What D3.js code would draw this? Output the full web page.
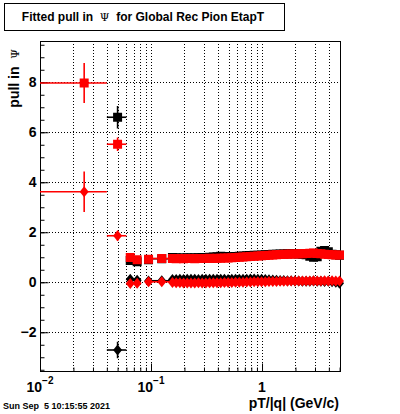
<!DOCTYPE html>
<html>
<head>
<meta charset="utf-8">
<script src="https://cdn.jsdelivr.net/npm/d3@7"></script>
<style>
  body { margin: 0; background: #fff; }
  text { font-family: "Liberation Sans", Arial, sans-serif; font-weight: bold; }
</style>
</head>
<body>
<svg width="400" height="414"></svg>
<script>
// bin edges in pT/|q| (GeV/c)
var binEdges = [0.01, 0.04, 0.06, 0.07, 0.08, 0.09, 0.10, 0.15,
  0.162, 0.175, 0.189, 0.204, 0.220, 0.238, 0.257, 0.278, 0.300, 0.324,
  0.350, 0.378, 0.408, 0.441, 0.476, 0.514, 0.555, 0.600, 0.648, 0.700,
  0.756, 0.816, 0.882, 0.952, 1.03, 1.11, 1.20, 1.30, 1.40, 1.51, 1.63,
  1.76, 1.90, 2.06, 2.22, 2.40, 2.59, 2.80, 3.02, 3.26, 3.52, 3.80, 4.11,
  4.44, 4.80, 5.18];

// pull values, one entry per bin (null = empty bin)
var blackSquare = [null, 6.58, 0.85, 0.80, null, 0.88, 0.92,
  0.97, 0.96, 0.95, 0.95, 0.96, 0.95, 0.96, 0.96, 0.97,
  0.97, 0.98, 0.99, 1.00, 1.02, 1.01, 1.00, 1.00, 1.01,
  1.02, 1.03, 1.04, 1.05, 1.06, 1.06, 1.07,
  1.08, 1.09, 1.10, 1.10, 1.11, 1.11, 1.12, 1.12,
  1.12, 1.11, 1.10, 1.08, 1.02, 0.98, 1.00,
  1.22, 1.25, 1.20, 1.10, 1.08, 1.06];
var blackSquareErr = [0, 0.45, 0.08, 0.08, 0, 0.07, 0.06,
  0.05, 0.05, 0.05, 0.05, 0.05, 0.05, 0.05, 0.05, 0.05,
  0.05, 0.05, 0.05, 0.05, 0.05, 0.05, 0.05, 0.05, 0.05,
  0.05, 0.05, 0.05, 0.05, 0.05, 0.05, 0.05,
  0.05, 0.05, 0.05, 0.05, 0.05, 0.05, 0.05, 0.05,
  0.05, 0.05, 0.05, 0.05, 0.05, 0.05, 0.05,
  0.06, 0.06, 0.06, 0.06, 0.06, 0.06];

var redSquare = [7.95, 5.50, 0.97, 0.88, null, 0.90, 0.93,
  0.93, 0.92, 0.93, 0.92, 0.93, 0.93, 0.92, 0.93, 0.93,
  0.93, 0.94, 0.93, 0.94, 0.94, 0.95, 0.95, 0.96, 0.97,
  0.98, 0.99, 1.00, 1.01, 1.02, 1.03, 1.04,
  1.05, 1.06, 1.07, 1.08, 1.09, 1.10, 1.10, 1.11,
  1.11, 1.12, 1.12, 1.13, 1.14, 1.15, 1.13,
  1.12, 1.10, 1.09, 1.08, 1.07, 1.07];
var redSquareErr = [0.80, 0.27, 0.08, 0.08, 0, 0.07, 0.06,
  0.05, 0.05, 0.05, 0.05, 0.05, 0.05, 0.05, 0.05, 0.05,
  0.05, 0.05, 0.05, 0.05, 0.05, 0.05, 0.05, 0.05, 0.05,
  0.05, 0.05, 0.05, 0.05, 0.05, 0.05, 0.05,
  0.05, 0.05, 0.05, 0.05, 0.05, 0.05, 0.05, 0.05,
  0.05, 0.05, 0.05, 0.05, 0.05, 0.05, 0.05,
  0.06, 0.06, 0.06, 0.06, 0.06, 0.06];

var blackDiamond = [null, -2.73, 0.10, 0.06, null, 0.03, 0.04,
  0.09, 0.09, 0.10, 0.09, 0.10, 0.10, 0.10, 0.09, 0.10,
  0.10, 0.10, 0.10, 0.10, 0.10, 0.10, 0.09, 0.10, 0.10,
  0.10, 0.10, 0.10, 0.11, 0.11, 0.10, 0.10,
  0.09, 0.08, 0.07, 0.06, 0.05, 0.05, 0.04, 0.04,
  0.03, 0.03, 0.02, 0.02, 0.02, 0.03, 0.02,
  0.02, 0.01, 0.02, 0.00, -0.02, -0.06];
var blackDiamondErr = [0, 0.33, 0.06, 0.06, 0, 0.05, 0.05,
  0.04, 0.04, 0.04, 0.04, 0.04, 0.04, 0.04, 0.04, 0.04,
  0.04, 0.04, 0.04, 0.04, 0.04, 0.04, 0.04, 0.04, 0.04,
  0.04, 0.04, 0.04, 0.04, 0.04, 0.04, 0.04,
  0.04, 0.04, 0.04, 0.04, 0.04, 0.04, 0.04, 0.04,
  0.04, 0.04, 0.04, 0.04, 0.04, 0.04, 0.04,
  0.05, 0.05, 0.05, 0.05, 0.05, 0.05];

var redDiamond = [3.60, 1.84, -0.07, -0.06, null, 0.00, 0.00,
  -0.03, -0.04, -0.04, -0.05, -0.05, -0.05, -0.05, -0.04, -0.05,
  -0.05, -0.04, -0.04, -0.04, -0.04, -0.03, -0.03, -0.03, -0.02,
  -0.02, -0.02, -0.01, -0.01, 0.00, 0.00, 0.00,
  0.00, 0.01, 0.01, 0.01, 0.02, 0.02, 0.02, 0.03,
  0.03, 0.03, 0.03, 0.03, 0.03, 0.04, 0.03,
  0.03, 0.04, 0.03, 0.04, 0.03, 0.03];
var redDiamondErr = [0.81, 0.20, 0.06, 0.06, 0, 0.05, 0.05,
  0.04, 0.04, 0.04, 0.04, 0.04, 0.04, 0.04, 0.04, 0.04,
  0.04, 0.04, 0.04, 0.04, 0.04, 0.04, 0.04, 0.04, 0.04,
  0.04, 0.04, 0.04, 0.04, 0.04, 0.04, 0.04,
  0.04, 0.04, 0.04, 0.04, 0.04, 0.04, 0.04, 0.04,
  0.04, 0.04, 0.04, 0.04, 0.04, 0.04, 0.04,
  0.05, 0.05, 0.05, 0.05, 0.05, 0.05];

var yMajorTicks = [-2, 0, 2, 4, 6, 8];
var xMajorTicks = [0.01, 0.1, 1];
var xMajorLabels = [["10", "\u22122"], ["10", "\u22121"], ["1", ""]];
var xMinorTicks = [0.02, 0.03, 0.04, 0.05, 0.06, 0.07, 0.08, 0.09,
  0.2, 0.3, 0.4, 0.5, 0.6, 0.7, 0.8, 0.9, 2, 3, 4, 5];

var svg = d3.select("svg");
var frameL = 40, frameR = 340, frameT = 41, frameB = 371;

var x = d3.scaleLog().domain([0.01, 5.04]).range([frameL, frameR]);
var y = d3.scaleLinear().domain([-3.57, 9.63]).range([frameB, frameT]);

// grid (dotted)
var grid = svg.append("g").attr("stroke", "#000").attr("stroke-width", 1)
  .attr("stroke-dasharray", "1,2");
grid.selectAll("line.gx").data(xMajorTicks.concat(xMinorTicks).filter(function(d) { return d > 0.01; }))
  .enter().append("line")
  .attr("x1", function(d) { return Math.round(x(d)) + 0.5; })
  .attr("x2", function(d) { return Math.round(x(d)) + 0.5; })
  .attr("y1", frameT).attr("y2", frameB);
grid.selectAll("line.gy").data(yMajorTicks)
  .enter().append("line")
  .attr("y1", function(d) { return Math.round(y(d)) + 0.5; })
  .attr("y2", function(d) { return Math.round(y(d)) + 0.5; })
  .attr("x1", frameL).attr("x2", frameR);

// y axis: major + minor ticks pointing inward
var yMinor = d3.range(-3.5, 9.6, 0.5);
svg.append("g").attr("transform", "translate(" + (frameL + 0.5) + ",0.5)")
  .call(d3.axisLeft(y).tickValues(yMinor).tickSize(-4).tickFormat(""))
  .call(function(g) { g.select(".domain").remove(); });
var gY = svg.append("g").attr("transform", "translate(" + (frameL + 0.5) + ",0.5)")
  .call(d3.axisLeft(y).tickValues(yMajorTicks).tickSize(-8).tickPadding(4)
    .tickFormat(function(d) { return d < 0 ? "\u2212" + Math.abs(d) : d; }));
gY.select(".domain").remove();
gY.selectAll("text").attr("font-size", 14).attr("font-family", null);

// x axis ticks pointing inward
svg.append("g").attr("transform", "translate(0," + (frameB + 0.5) + ")")
  .call(d3.axisBottom(x).tickValues(xMinorTicks).tickSize(-4).tickFormat(""))
  .call(function(g) { g.select(".domain").remove(); });
svg.append("g").attr("transform", "translate(0," + (frameB + 0.5) + ")")
  .call(d3.axisBottom(x).tickValues(xMajorTicks).tickSize(-8).tickFormat(""))
  .call(function(g) { g.select(".domain").remove(); });

var xl = svg.append("g").selectAll("text").data(xMajorTicks).enter().append("text")
  .attr("x", function(d) { return x(d); })
  .attr("y", 392)
  .attr("text-anchor", "middle")
  .attr("font-size", 14);
xl.append("tspan").text(function(d, i) { return xMajorLabels[i][0]; });
xl.append("tspan").attr("font-size", 10).attr("dy", -8)
  .text(function(d, i) { return xMajorLabels[i][1]; });

// frame
svg.append("rect").attr("x", frameL + 0.5).attr("y", frameT + 0.5)
  .attr("width", frameR - frameL).attr("height", frameB - frameT)
  .attr("fill", "none").attr("stroke", "#000");

// data points
var bins = d3.range(binEdges.length - 1).map(function(i) {
  return { lo: binEdges[i], hi: binEdges[i + 1], c: (binEdges[i] + binEdges[i + 1]) / 2 };
});

var squarePath = "M-4.5,-4.5H4.5V4.5H-4.5Z";
var diamondPath = "M0,-5.5L4.5,0L0,5.5L-4.5,0Z";

function drawSeries(vals, errs, color, shape) {
  var pts = bins.map(function(b, i) {
    return { lo: b.lo, hi: b.hi, c: b.c, v: vals[i], e: errs[i] };
  }).filter(function(d) { return d.v != null; });
  var g = svg.append("g");
  g.selectAll("line.h").data(pts).enter().append("line")
    .attr("x1", function(d) { return x(d.lo); })
    .attr("x2", function(d) { return Math.min(x(d.hi), frameR); })
    .attr("y1", function(d) { return y(d.v); })
    .attr("y2", function(d) { return y(d.v); })
    .attr("stroke", color).attr("stroke-width", 1.6);
  g.selectAll("line.v").data(pts).enter().append("line")
    .attr("x1", function(d) { return x(d.c); })
    .attr("x2", function(d) { return x(d.c); })
    .attr("y1", function(d) { return y(d.v - d.e); })
    .attr("y2", function(d) { return y(d.v + d.e); })
    .attr("stroke", color).attr("stroke-width", 1.6);
  g.selectAll("path").data(pts).enter().append("path")
    .attr("d", shape)
    .attr("transform", function(d) { return "translate(" + x(d.c) + "," + y(d.v) + ")"; })
    .attr("fill", color);
}

drawSeries(blackSquare, blackSquareErr, "#000", squarePath);
drawSeries(blackDiamond, blackDiamondErr, "#000", diamondPath);
drawSeries(redSquare, redSquareErr, "#ff0000", squarePath);
drawSeries(redDiamond, redDiamondErr, "#ff0000", diamondPath);

// title box
svg.append("rect").attr("x", 4.5).attr("y", 3.5).attr("width", 280).attr("height", 27)
  .attr("fill", "#fff").attr("stroke", "#000");
var t = svg.append("text").attr("x", 143).attr("y", 21).attr("text-anchor", "middle")
  .attr("font-size", 12).style("white-space", "pre");
t.append("tspan").text("Fitted pull in  ");
t.append("tspan").attr("font-weight", "normal").attr("font-family", "DejaVu Serif")
  .attr("font-size", 11).text("\u03A8");
t.append("tspan").text("  for Global Rec Pion EtapT");

// axis titles
var yt = svg.append("text").attr("transform", "translate(19,49) rotate(-90)")
  .attr("text-anchor", "end").attr("font-size", 14).style("white-space", "pre");
yt.append("tspan").text("pull in  ");
yt.append("tspan").attr("font-weight", "normal").attr("font-family", "DejaVu Serif")
  .attr("font-size", 11).text("\u03A8");

svg.append("text").attr("x", 339).attr("y", 408).attr("text-anchor", "end")
  .attr("font-size", 14).text("pT/|q| (GeV/c)");

svg.append("text").attr("x", 3).attr("y", 409).attr("font-size", 9)
  .style("white-space", "pre").text("Sun Sep  5 10:15:55 2021");
</script>
</body>
</html>
